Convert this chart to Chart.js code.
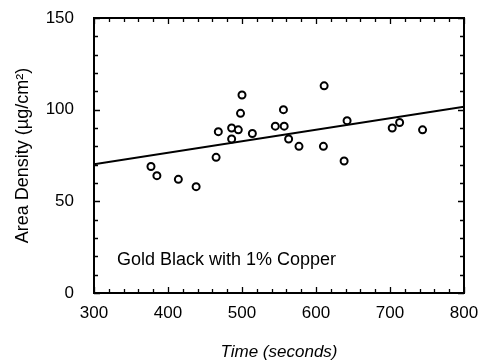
<!DOCTYPE html>
<html lang="en">
<head>
    <meta charset="UTF-8">
    <title>Area Density vs Time</title>
    <script src="https://cdn.jsdelivr.net/npm/chart.js@4.4.1/dist/chart.umd.min.js"></script>
    <style>
        body { margin: 0; background: #fff; }
        #wrap { width: 479px; height: 362px; }
    </style>
</head>
<body>
    <div id="wrap"><canvas id="chart" width="479" height="362"></canvas></div>

    <script>
        // measured points (time s, area density ug/cm2)
        const timeSec = [377, 385, 414, 438, 465, 468, 486, 486, 495, 498, 500, 514, 545, 556, 557, 563, 577, 611, 610, 638, 642, 703, 713, 744];
        const density = [69, 64, 62, 58, 74, 88, 84, 90, 89, 98, 108, 87, 91, 100, 91, 84, 80, 113, 80, 72, 94, 90, 93, 89];

        // fitted line end points
        const fitX = [300, 800];
        const fitY = [70.2, 101.6];

        const xTickStep = 100, xMinorStep = 20;
        const yTickStep = 50, yMinorStep = 10;

        const noteText = 'Gold Black with 1% Copper';
        const noteAt = [331, 18];

        const fontFamily = '"Liberation Sans", Arial, Helvetica, sans-serif';

        // frame + inward ticks on all four sides, plus the label
        const framePlugin = {
            id: 'frame',
            afterDraw(chart) {
                const ctx = chart.ctx;
                const a = chart.chartArea;
                const xs = chart.scales.x, ys = chart.scales.y;
                ctx.save();
                ctx.strokeStyle = '#000';
                ctx.lineWidth = 2;
                ctx.strokeRect(a.left, a.top, a.right - a.left, a.bottom - a.top);

                ctx.lineWidth = 1.3;
                ctx.beginPath();
                for (let v = xs.min; v <= xs.max; v += xMinorStep) {
                    const px = Math.round(xs.getPixelForValue(v)) + 0.5;
                    const len = v % xTickStep === 0 ? 6 : 4;
                    ctx.moveTo(px, a.bottom); ctx.lineTo(px, a.bottom - len);
                    ctx.moveTo(px, a.top); ctx.lineTo(px, a.top + len);
                }
                for (let v = ys.min; v <= ys.max; v += yMinorStep) {
                    const py = Math.round(ys.getPixelForValue(v)) + 0.5;
                    const len = v % yTickStep === 0 ? 6 : 4;
                    ctx.moveTo(a.left, py); ctx.lineTo(a.left + len, py);
                    ctx.moveTo(a.right, py); ctx.lineTo(a.right - len, py);
                }
                ctx.stroke();

                ctx.fillStyle = '#000';
                ctx.font = '18px ' + fontFamily;
                ctx.textBaseline = 'middle';
                ctx.textAlign = 'left';
                ctx.fillText(noteText, xs.getPixelForValue(noteAt[0]), ys.getPixelForValue(noteAt[1]));
                ctx.restore();
            }
        };

        new Chart(document.getElementById('chart').getContext('2d'), {
            type: 'scatter',
            data: {
                datasets: [
                    {
                        data: timeSec.map((t, i) => ({x: t, y: density[i]})),
                        pointStyle: 'circle',
                        pointRadius: 3.5,
                        pointBorderWidth: 2,
                        pointBorderColor: '#000',
                        pointBackgroundColor: '#fff',
                        showLine: false
                    },
                    {
                        type: 'line',
                        data: fitX.map((t, i) => ({x: t, y: fitY[i]})),
                        borderColor: '#000',
                        borderWidth: 2,
                        pointRadius: 0,
                        fill: false
                    }
                ]
            },
            options: {
                responsive: false,
                animation: false,
                layout: { padding: { top: 18, right: 15, bottom: 0, left: 0 } },
                plugins: { legend: { display: false }, tooltip: { enabled: false } },
                scales: {
                    x: {
                        type: 'linear',
                        min: 300, max: 800,
                        grid: { display: false },
                        border: { display: false },
                        ticks: { stepSize: xTickStep, padding: 2, color: '#000', font: { family: fontFamily, size: 17 } },
                        title: { display: true, text: 'Time (seconds)', color: '#000', padding: { top: 0, bottom: 0 },
                                 font: { family: fontFamily, size: 17, style: 'italic' } },
                        afterFit(scale) {
                            scale.height = 69;
                            scale.paddingLeft = 0;
                            scale.paddingRight = 0;
                        }
                    },
                    y: {
                        min: 0, max: 150,
                        grid: { display: false },
                        border: { display: false },
                        ticks: { stepSize: yTickStep, padding: 12, color: '#000', font: { family: fontFamily, size: 17 } },
                        title: { display: true, text: 'Area Density (\u00b5g/cm\u00b2)', color: '#000', padding: { top: 12, bottom: 0 },
                                 font: { family: fontFamily, size: 18 } },
                        afterFit(scale) {
                            scale.width = 94;
                            scale.paddingTop = 0;
                            scale.paddingBottom = 0;
                        }
                    }
                }
            },
            plugins: [framePlugin]
        });
    </script>
</body>
</html>
